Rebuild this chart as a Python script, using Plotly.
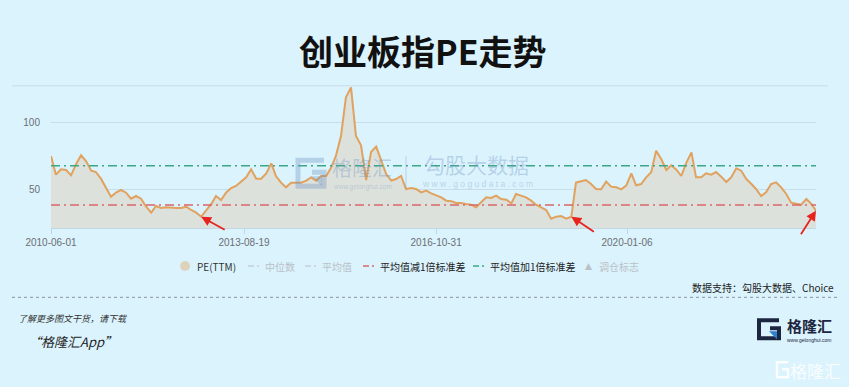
import plotly.graph_objects as go

# ---------------- data ----------------
dates = [
    "2010-06", "2010-07", "2010-08", "2010-09", "2010-10", "2010-11", "2010-12",
    "2011-01", "2011-02", "2011-03", "2011-04", "2011-05", "2011-06", "2011-07", "2011-08", "2011-09", "2011-10", "2011-11", "2011-12",
    "2012-01", "2012-02", "2012-03", "2012-04", "2012-05", "2012-06", "2012-07", "2012-08", "2012-09", "2012-10", "2012-11", "2012-12",
    "2013-01", "2013-02", "2013-03", "2013-04", "2013-05", "2013-06", "2013-07", "2013-08", "2013-09", "2013-10", "2013-11", "2013-12",
    "2014-01", "2014-02", "2014-03", "2014-04", "2014-05", "2014-06", "2014-07", "2014-08", "2014-09", "2014-10", "2014-11", "2014-12",
    "2015-01", "2015-02", "2015-03", "2015-04", "2015-05", "2015-06", "2015-07", "2015-08", "2015-09", "2015-10", "2015-11", "2015-12",
    "2016-01", "2016-02", "2016-03", "2016-04", "2016-05", "2016-06", "2016-07", "2016-08", "2016-09", "2016-10", "2016-11", "2016-12",
    "2017-01", "2017-02", "2017-03", "2017-04", "2017-05", "2017-06", "2017-07", "2017-08", "2017-09", "2017-10", "2017-11", "2017-12",
    "2018-01", "2018-02", "2018-03", "2018-04", "2018-05", "2018-06", "2018-07", "2018-08", "2018-09", "2018-10", "2018-11", "2018-12",
    "2019-01", "2019-02", "2019-03", "2019-04", "2019-05", "2019-06", "2019-07", "2019-08", "2019-09", "2019-10", "2019-11", "2019-12",
    "2020-01", "2020-02", "2020-03", "2020-04", "2020-05", "2020-06", "2020-07", "2020-08", "2020-09", "2020-10", "2020-11", "2020-12",
    "2021-01", "2021-02", "2021-03", "2021-04", "2021-05", "2021-06", "2021-07", "2021-08", "2021-09", "2021-10", "2021-11", "2021-12",
    "2022-01", "2022-02", "2022-03", "2022-04", "2022-05", "2022-06", "2022-07", "2022-08", "2022-09", "2022-10", "2022-11", "2022-12",
    "2023-01", "2023-02", "2023-03",
]

pe_ttm = [
    75, 61, 65, 64.5, 60.5, 69, 75.5,
    71, 64, 63, 58, 51, 44.5, 47.5, 49.5, 47.5, 43, 45, 43,
    37, 32.5, 37.5, 36, 36.5, 36, 36, 36, 37, 34.5, 32.5, 29.5,
    34, 39, 45, 42, 47.5, 51, 52.5, 56, 59, 65, 58, 58,
    62, 69.5, 60, 55, 51.5, 55, 55, 55, 56.5, 59, 56.5, 60,
    60, 66.5, 75, 90, 119, 126.5, 90, 83, 57, 78, 82, 72,
    61.5, 56.5, 57.75, 60, 50.25, 51, 50.25, 47.75, 49, 47, 45.25, 44,
    41.5, 41, 39.75, 39.75, 39, 38.5, 36.5, 40, 44, 43.5, 45.25, 42.75,
    42.25, 39.5, 46.5, 45.25, 44, 41.5, 38.5, 36.5, 34.5, 28, 29.5, 30,
    28, 29.5, 55, 56, 57, 54, 50.25, 50, 55.75, 52, 51.5, 50,
    52.75, 62, 53, 54, 59, 62.75, 79, 72.75, 64.5, 68, 64.75, 60,
    70, 77.75, 59, 59, 62, 61, 63, 59.5, 55.5, 59, 65.75, 64,
    57.75, 54, 50.25, 45, 47.75, 54, 55.25, 51.5, 46.5, 40, 39, 38.5,
    42.75, 39, 34,
]

mean_minus_std = 38.3
mean_plus_std = 67.6

x_tick_vals = ["2010-06-01", "2013-08-19", "2016-10-31", "2020-01-06"]
x_tick_text = ["2010-06-01", "2013-08-19", "2016-10-31", "2020-01-06"]
y_tick_vals = [50, 100]

arrow_idx = [30, 104, 153]
arrow_offsets = [(25, 14), (24, 16), (-16, 25)]

legend_items = ["PE(TTM)", "中位数", "平均值", "平均值减1倍标准差", "平均值加1倍标准差", "调仓标志"]

# ---------------- layout helpers ----------------
W, H = 849, 387
L, R, T, B = 51, 816, 85.7, 227.7


def px(x):
    return (x - L) / (R - L)


def py(y):
    return (B - y) / (B - T)


BG = "#dbf3fd"
LINE = "#e0a25e"
FILL = "#dde1dc"
RED = "#d9676a"
GREEN = "#3aa884"
CJK = "Noto Sans CJK SC"

fig = go.Figure()

fig.add_trace(go.Scatter(
    x=dates, y=pe_ttm, mode="lines", name="PE(TTM)",
    line=dict(color=LINE, width=2), fill="tozeroy", fillcolor=FILL,
    hoverinfo="skip"))

fig.add_trace(go.Scatter(
    x=[dates[0], dates[-1]], y=[mean_minus_std, mean_minus_std], mode="lines",
    line=dict(color=RED, width=1.5, dash="9px,4px,2px,4px"), name="平均值减1倍标准差"))
fig.add_trace(go.Scatter(
    x=[dates[0], dates[-1]], y=[mean_plus_std, mean_plus_std], mode="lines",
    line=dict(color=GREEN, width=1.5, dash="9px,4px,2px,4px"), name="平均值加1倍标准差"))

annotations = []
shapes = []

# arrows pointing to lows
for i, (ax, ay) in zip(arrow_idx, arrow_offsets):
    annotations.append(dict(
        x=dates[i], y=pe_ttm[i], xref="x", yref="y", ax=ax, ay=ay, text="",
        showarrow=True, arrowhead=2, arrowsize=1.1, arrowwidth=1.8,
        arrowcolor="#e8231e", standoff=0))

# title
annotations.append(dict(
    x=px(423), y=py(50), xref="paper", yref="paper", text="<b>创业板指PE走势</b>",
    showarrow=False, font=dict(family=CJK, size=34, color="#111"),
    xanchor="center", yanchor="middle"))

# separator lines
shapes.append(dict(type="line", xref="paper", yref="paper", x0=px(12), x1=px(828),
                   y0=py(85.5), y1=py(85.5), line=dict(color="#c9dce9", width=1)))
shapes.append(dict(type="line", xref="paper", yref="paper", x0=px(12), x1=px(837),
                   y0=py(297), y1=py(297), line=dict(color="#8a9299", width=1, dash="dot")))

# watermark (center)
wm = "rgba(110,145,190,0.35)"
shapes.append(dict(type="path", xref="paper", yref="paper",
                   path=f"M {px(324)} {py(160)} L {px(298)} {py(160)} L {px(298)} {py(186)} "
                        f"L {px(324)} {py(186)} L {px(324)} {py(172)} L {px(312)} {py(172)}",
                   line=dict(color=wm, width=5)))
shapes.append(dict(type="path", xref="paper", yref="paper",
                   path=f"M {px(311)} {py(176)} L {px(322)} {py(176)} L {px(322)} {py(186)} Z",
                   fillcolor=wm, line=dict(width=0)))
shapes.append(dict(type="line", xref="paper", yref="paper", x0=px(406), x1=px(406),
                   y0=py(156), y1=py(188), line=dict(color=wm, width=1)))
annotations += [
    dict(x=px(362), y=py(167), text="格隆汇", font=dict(family=CJK, size=20, color=wm)),
    dict(x=px(362), y=py(186.5), text="www.gelonghui.com", font=dict(family="Liberation Sans", size=6.5, color=wm)),
    dict(x=px(476), y=py(164), text="勾股大数据", font=dict(family=CJK, size=21, color=wm)),
    dict(x=px(477), y=py(184), text="w w w . g o g u d a t a . c o m", font=dict(family="Liberation Sans", size=8.5, color=wm)),
]
for a in annotations[-4:]:
    a.update(xref="paper", yref="paper", showarrow=False, xanchor="center", yanchor="middle")

# manual legend
LY = 265.7
shapes.append(dict(type="circle", xref="paper", yref="paper", x0=px(180), x1=px(190),
                   y0=py(LY - 5), y1=py(LY + 5), fillcolor="#ddd3bd", line=dict(width=0)))
icon_specs = [(248, "#c7cfd4"), (305, "#c7cfd4"), (363, RED), (473, GREEN)]
for x0, c in icon_specs:
    shapes.append(dict(type="line", xref="paper", yref="paper", x0=px(x0), x1=px(x0 + 6),
                       y0=py(LY), y1=py(LY), line=dict(color=c, width=1.5)))
    shapes.append(dict(type="line", xref="paper", yref="paper", x0=px(x0 + 9), x1=px(x0 + 11),
                       y0=py(LY), y1=py(LY), line=dict(color=c, width=1.5)))
legend_pos = [(195, "#333"), (263, "#b9c1c6"), (320, "#b9c1c6"), (378, "#222"), (488, "#222"), (597, "#b9c1c6")]
for (x0, c), txt in zip(legend_pos, legend_items):
    annotations.append(dict(x=px(x0), y=py(LY), xref="paper", yref="paper", text=txt,
                            showarrow=False, xanchor="left", yanchor="middle",
                            font=dict(family=CJK, size=10, color=c)))
annotations.append(dict(x=px(588.5), y=py(LY), xref="paper", yref="paper", text="▲",
                        showarrow=False, xanchor="center", yanchor="middle",
                        font=dict(family="DejaVu Sans", size=9, color="#b9c1c6")))

# data source
annotations.append(dict(x=px(836), y=py(287), xref="paper", yref="paper",
                        text="数据支持：勾股大数据、Choice", showarrow=False,
                        xanchor="right", yanchor="middle", font=dict(family=CJK, size=10, color="#222")))

# bottom left promo
annotations.append(dict(x=px(16), y=py(318), xref="paper", yref="paper",
                        text="<i>了解更多图文干货，请下载</i>", showarrow=False,
                        xanchor="left", yanchor="middle", font=dict(family=CJK, size=9, color="#333")))
annotations.append(dict(x=px(26), y=py(341), xref="paper", yref="paper",
                        text="<i>“格隆汇App”</i>", showarrow=False,
                        xanchor="left", yanchor="middle", font=dict(family=CJK, size=13, color="#222")))

# bottom right logo
NAVY = "#1d2640"
shapes.append(dict(type="path", xref="paper", yref="paper",
                   path=f"M {px(779)} {py(320)} L {px(759)} {py(320)} L {px(759)} {py(338)} "
                        f"L {px(779)} {py(338)} L {px(779)} {py(328)} L {px(770)} {py(328)}",
                   line=dict(color=NAVY, width=4)))
shapes.append(dict(type="path", xref="paper", yref="paper",
                   path=f"M {px(769)} {py(331)} L {px(777)} {py(331)} L {px(777)} {py(339)} Z",
                   fillcolor="#2d7fd2", line=dict(width=0)))
annotations.append(dict(x=px(809), y=py(325), xref="paper", yref="paper", text="<b>格隆汇</b>",
                        showarrow=False, xanchor="center", yanchor="middle",
                        font=dict(family=CJK, size=15, color=NAVY)))
annotations.append(dict(x=px(809), y=py(340), xref="paper", yref="paper", text="www.gelonghui.com",
                        showarrow=False, xanchor="center", yanchor="middle",
                        font=dict(family="Liberation Sans", size=5, color=NAVY)))
# white watermark bottom right
WH = "rgba(255,255,255,0.85)"
shapes.append(dict(type="path", xref="paper", yref="paper",
                   path=f"M {px(788)} {py(362)} L {px(777)} {py(362)} L {px(777)} {py(377)} "
                        f"L {px(788)} {py(377)} L {px(788)} {py(369)} L {px(782)} {py(369)}",
                   line=dict(color=WH, width=2.5)))
annotations.append(dict(x=px(815), y=py(370), xref="paper", yref="paper", text="格隆汇",
                        showarrow=False, xanchor="center", yanchor="middle",
                        font=dict(family=CJK, size=17, color=WH)))

fig.update_layout(
    width=W, height=H, margin=dict(l=L, r=W - R, t=T, b=H - B, pad=0),
    paper_bgcolor=BG, plot_bgcolor=BG, showlegend=False,
    annotations=annotations, shapes=shapes,
    xaxis=dict(type="date", range=["2010-06-01", "2023-03-01"], tickvals=x_tick_vals,
               ticktext=x_tick_text, showgrid=False, showline=True, linecolor="#c3d6e5",
               linewidth=1, ticks="outside", ticklen=5, tickcolor="#c3d6e5", zeroline=False,
               tickfont=dict(family="Liberation Sans", size=10, color="#6b6f73")),
    yaxis=dict(range=[21, 127.5], tickvals=y_tick_vals, showgrid=True, gridcolor="#c9dce9",
               gridwidth=1, zeroline=False, showline=False, ticks="", ticklabelstandoff=10,
               tickfont=dict(family="Liberation Sans", size=10, color="#6b6f73")),
)

fig.write_html("out.html")
